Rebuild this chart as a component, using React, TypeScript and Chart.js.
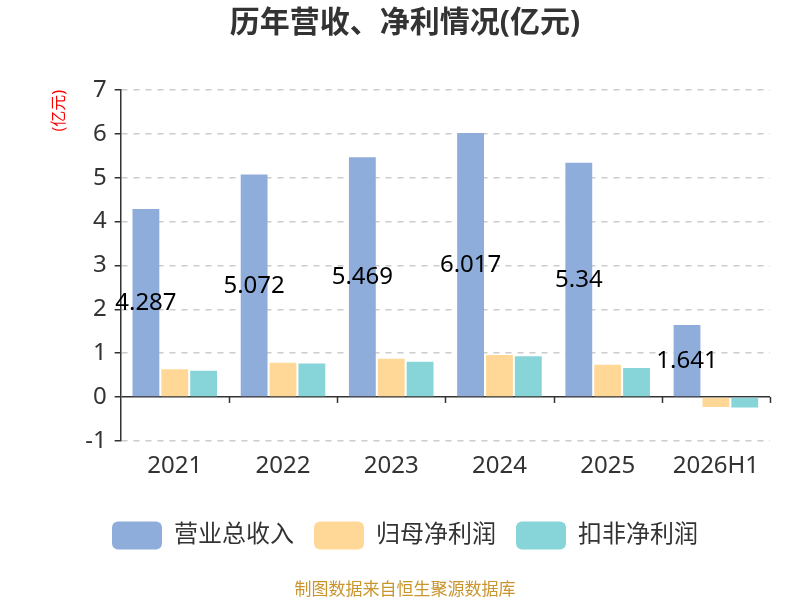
import React, { useEffect, useRef } from "react";
import { Chart, registerables } from "chart.js";

Chart.register(...registerables);

const categories = ["2021", "2022", "2023", "2024", "2025", "2026H1"];
const revenue = [4.287, 5.072, 5.469, 6.017, 5.34, 1.641];
const netProfit = [0.63, 0.78, 0.87, 0.955, 0.735, -0.23];
const deductedProfit = [0.6, 0.765, 0.8, 0.93, 0.66, -0.24];
const seriesNames = ["营业总收入", "归母净利润", "扣非净利润"];
const colors = ["#8faddb", "#ffd898", "#87d4d9"];

const FONT = "'Noto Sans', 'Noto Sans CJK SC', sans-serif";

const zeroTicksPlugin = {
  id: "zeroTicks",
  afterDatasetsDraw(chart: any) {
    const x = chart.scales.x;
    const y = chart.scales.y;
    const ctx = chart.ctx;
    const y0 = y.getPixelForValue(0);
    const n = categories.length;
    const step = (chart.chartArea.right - chart.chartArea.left) / n;
    ctx.save();
    ctx.strokeStyle = "#333";
    ctx.lineWidth = 1.5;
    for (let i = 1; i <= n; i++) {
      const px = Math.round(x.getPixelForValue(i - 1) + step / 2) + 0.5;
      ctx.beginPath();
      ctx.moveTo(px, y0);
      ctx.lineTo(px, y0 + 6);
      ctx.stroke();
    }
    // labels on revenue bars
    const meta = chart.getDatasetMeta(0);
    ctx.fillStyle = "#000";
    ctx.font = `24px ${FONT}`;
    ctx.textAlign = "center";
    ctx.textBaseline = "middle";
    meta.data.forEach((bar: any, i: number) => {
      const v = revenue[i];
      ctx.fillText(String(v), bar.x, y.getPixelForValue(v / 2));
    });
    ctx.restore();
  },
};

export default function App() {
  const ref = useRef<HTMLCanvasElement>(null);
  useEffect(() => {
    if (!ref.current) return;
    const chart = new Chart(ref.current, {
      type: "bar",
      data: {
        labels: categories,
        datasets: [
          { label: seriesNames[0], data: revenue, backgroundColor: colors[0] },
          { label: seriesNames[1], data: netProfit, backgroundColor: colors[1] },
          { label: seriesNames[2], data: deductedProfit, backgroundColor: colors[2] },
        ],
      },
      options: {
        animation: false,
        responsive: false,
        devicePixelRatio: 1,
        datasets: { bar: { categoryPercentage: 0.8, barPercentage: 0.93 } },
        layout: { padding: { left: 40, right: 30, top: 0, bottom: 0 } },
        plugins: {
          title: {
            display: true,
            text: "历年营收、净利情况(亿元)",
            color: "#333",
            font: { size: 30, weight: "bold", family: FONT },
            padding: { top: 5, bottom: 49 },
          },
          subtitle: {
            display: true,
            position: "bottom",
            text: "制图数据来自恒生聚源数据库",
            color: "#c9952d",
            font: { size: 17, family: FONT },
            padding: { top: 20, bottom: 0 },
          },
          legend: {
            position: "bottom",
            labels: {
              boxWidth: 50,
              boxHeight: 28,
              useBorderRadius: true,
              borderRadius: 6,
              color: "#333",
              font: { size: 24, family: FONT },
              padding: 20,
            },
          },
          tooltip: { enabled: false },
        },
        scales: {
          x: {
            grid: { display: false, drawTicks: false },
            border: { display: false },
            ticks: { color: "#333", font: { size: 24, family: FONT }, padding: 11 },
            afterFit: (s: any) => {
              s.height += 10;
            },
          },
          y: {
            min: -1,
            max: 7,
            ticks: { stepSize: 1, color: "#333", font: { size: 24, family: FONT }, padding: 8 },
            grid: {
              color: (c: any) => (c.tick && c.tick.value === 0 ? "#333" : "#cccccc"),
              lineWidth: 1.5,
              tickColor: "#333",
              tickLength: 6,
            },
            border: {
              display: true,
              color: "#333",
              width: 1.5,
              dash: (c: any) => (c.tick && c.tick.value === 0 ? [] : [6, 6]),
            },
            title: {
              display: true,
              text: "(亿元)",
              color: "red",
              align: "end",
              font: { size: 16, family: FONT },
              padding: { top: 10, bottom: 8 },
            },
          },
        },
      },
      plugins: [zeroTicksPlugin],
    });
    return () => chart.destroy();
  }, []);
  return (
    <div style={{ position: "fixed", left: 0, top: 0, width: 800, height: 600, background: "#fff" }}>
      <canvas ref={ref} width={800} height={600} style={{ width: 800, height: 600 }} />
    </div>
  );
}
